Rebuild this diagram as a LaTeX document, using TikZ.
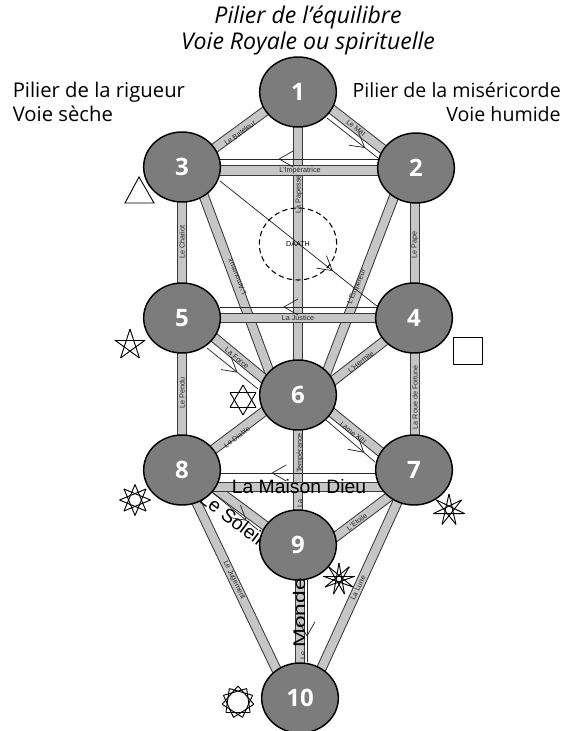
\documentclass[tikz,border=0pt]{standalone}
\usepackage{fontspec}
\setmainfont{Open Sans}
\newfontfamily\arialf{Liberation Sans}
\newfontfamily\arialwide[FakeStretch=1.35]{Liberation Sans}
\usetikzlibrary{calc,backgrounds,arrows.meta,decorations.markings,shapes.geometric}
\definecolor{sphere}{HTML}{7C7C7C}
\definecolor{barfill}{HTML}{C6C6C6}
\definecolor{baredge}{HTML}{3A3A3A}
\tikzset{
  sephira/.style={ellipse,draw=black,line width=1.1pt,fill=sphere,minimum width=57.5pt,minimum height=52.5pt,inner sep=0pt,
    text=white,font=\fontsize{18}{20}\selectfont\bfseries},
  bar/.style={draw=baredge,line width=0.75pt,double=barfill,double distance=6.2pt},
  tiny/.style={font=\arialf\fontsize{5.4}{6}\selectfont,inner sep=0pt,text=black!85},
  biglabel/.style={font=\arialf\fontsize{14.5}{16}\selectfont,inner sep=0pt},
  hugelabel/.style={font=\arialwide\fontsize{12.6}{14}\selectfont,inner sep=0pt},
  heading/.style={font=\fontsize{15.2}{18}\selectfont,inner sep=0pt},
  rightheading/.style={font=\fontsize{14.7}{18}\selectfont,inner sep=0pt},
  topheading/.style={font=\fontsize{17.3}{20}\selectfont,inner sep=0pt},
  flow/.style n args={1}{draw=black!85,line width=0.55pt,postaction={decorate},
    decoration={markings,mark=at position #1 with {\arrow{Straight Barb[length=10.5pt,width=12pt,line width=0.55pt]}}}},
  sign/.style={draw=black,line width=0.7pt,line join=miter},
}
% star polygon: x, y, radius, points, skip
\newcommand\starpoly[5]{%
  \foreach \i in {1,...,#4}{%
    \pgfmathsetmacro\aa{-90+\i*360/#4}%
    \pgfmathsetmacro\bb{-90+(\i+#5)*360/#4}%
    \draw[sign] ($(#1,#2)+(\aa:#3)$) -- ($(#1,#2)+(\bb:#3)$);
  }%
}
\begin{document}
\begin{tikzpicture}[x=0.75pt,y=-0.75pt]
\useasboundingbox (0,0) rectangle (564,731);
% spheres
\node[sephira] (n1) at (298,92) {1};
\node[sephira] (n2) at (416,168) {2};
\node[sephira] (n3) at (182,167) {3};
\node[sephira] (n4) at (414,318) {4};
\node[sephira] (n5) at (182,318) {5};
\node[sephira] (n6) at (298,395) {6};
\node[sephira] (n7) at (414,470) {7};
\node[sephira] (n8) at (182,470) {8};
\node[sephira] (n9) at (298,545) {9};
\node[sephira] (n10) at (300,698) {10};
\begin{scope}[on background layer]
  % vertical and slanted paths
  \draw[bar] ($(n1)+(0,0)$) -- ($(n6)+(0,0)$);
  \draw[bar] ($(n3)+(0,0)$) -- ($(n5)+(0,0)$);
  \draw[bar] ($(n2)+(-1,0)$) -- ($(n4)+(1,0)$);
  \draw[bar] ($(n5)+(0,0)$) -- ($(n8)+(0,0)$);
  \draw[bar] ($(n4)+(1,0)$) -- ($(n7)+(1,0)$);
  \draw[bar] ($(n6)+(0,0)$) -- ($(n9)+(0,0)$);
  \draw[bar] ($(n9)+(2,0)$) -- ($(n10)+(0,0)$);
  \draw[bar] ($(n1)+(0,-5)$) -- ($(n3)+(0,5)$);
  \draw[bar] ($(n1)+(0,-9)$) -- ($(n2)+(0,7)$);
  \draw[bar] ($(n3)+(11,0)$) -- ($(n6)+(-20,0)$);
  \draw[bar] ($(n2)+(-11,0)$) -- ($(n6)+(20,0)$);
  \draw[bar] ($(n5)+(0,-7)$) -- ($(n6)+(0,12)$);
  \draw[bar] ($(n4)+(0,0)$) -- ($(n6)+(0,13)$);
  \draw[bar] ($(n8)+(0,3)$) -- ($(n6)+(0,-9)$);
  \draw[bar] ($(n6)+(0,-10)$) -- ($(n7)+(0,9)$);
  \draw[bar] ($(n8)+(0,-6)$) -- ($(n9)+(0,5)$);
  \draw[bar] ($(n7)+(0,8)$) -- ($(n9)+(0,20)$);
  \draw[bar] ($(n8)+(-1,0)$) -- ($(n10)+(-10,0)$);
  \draw[bar] ($(n7)+(-2,0)$) -- ($(n10)+(8,0)$);
  % horizontal paths
  \draw[bar] ($(n3)+(0,3.5)$) -- ($(n2)+(0,2.5)$);
  \draw[bar] ($(n5)+(0,0)$) -- ($(n4)+(0,0)$);
  \draw[bar] ($(n8)+(0,17)$) -- ($(n7)+(0,17)$);
  % thin directed lines
  \draw[flow=.75] ($(n1)+(29,26)$) -- ($(n2)+(-38,-10)$);
  \draw[flow=.63] ($(n2)+(-38,-9)$) -- ($(n3)+(38,-8)$);
  \draw[flow=.715] ($(n3)+(38,14)$) -- ($(n4)+(-36,-11)$);
  \draw[flow=.6] ($(n4)+(-36,-11)$) -- ($(n5)+(38,-11)$);
  \draw[flow=.6] ($(n5)+(25,30)$) -- ($(n6)+(-40,-6)$);
  \draw[flow=.78] ($(n6)+(28,25)$) -- ($(n7)+(-39,-8)$);
  \draw[flow=.67] ($(n7)+(-38,3)$) -- ($(n8)+(38,3)$);
  \draw[flow=.75] ($(n8)+(31,23)$) -- ($(n9)+(-40,-15)$);
  \draw[flow=.69] ($(n9)+(9,35)$) -- ($(n10)+(7,-36)$);
  % labels on the paths
  \node[tiny,rotate=36] (l13) at (240,133) {Le Bateleur};
  \node[tiny,rotate=-38] (l12) at (356,128) {Le Mat};
  \node[tiny,rotate=90] (l16) at (299,194) {La Papesse};
  \node[tiny] (l32) at (300,171) {L'Impératrice};
  \node[tiny,rotate=90] (l35) at (182,242) {Le Chariot};
  \node[tiny,rotate=90] (l24) at (415,245) {Le Pape};
  \node[tiny,rotate=113] (l36) at (237,277) {L'Amoureux};
  \node[tiny,rotate=67] (l26) at (357,287) {L'Empereur};
  \node[tiny] (l54) at (298,318) {La Justice};
  \node[tiny,rotate=-39] (l56) at (237,358) {La Force};
  \node[tiny,rotate=38] (l46) at (361,362) {L'Hermite};
  \node[tiny,rotate=90] (l58) at (182,393) {Le Pendu};
  \node[tiny,rotate=90] (l47) at (415,397) {La Roue de Fortune};
  \node[tiny,rotate=37] (l68) at (237,437) {Le Diable};
  \node[tiny,rotate=-38] (l67) at (353,433) {Lame XIII};
  \node[tiny,rotate=90] (l69a) at (300,453) {Tempérance};
  \node[tiny,rotate=90] (l69b) at (300,503) {La};
  \node[tiny,rotate=37] (l79) at (357,522) {L'Etoile};
  \node[tiny,rotate=-64] (l810) at (234,580) {Le Jugement};
  \node[tiny,rotate=64] (l710) at (358,588) {La Lune};
  \node[tiny,rotate=90] (l910a) at (303,655) {Le};
  \node[biglabel,rotate=-37] (l89) at (232,518) {Le Soleil};
\end{scope}
\node[biglabel] (l87) at (299,487) {La Maison Dieu};
\node[hugelabel,rotate=90] (l910) at (299,613) {Monde};
% Daath
\node[ellipse,draw=black,line width=0.8pt,dashed,dash pattern=on 4pt off 2.5pt,minimum width=58pt,minimum height=54pt,inner sep=0pt,
  font=\arialf\fontsize{5.4}{6}\selectfont] (daath) at (298,244) {DAATH};
% headings
\node[topheading,anchor=base] (h1a) at (308,24) {\itshape Pilier de l'équilibre};
\node[topheading,anchor=base] (h1b) at (308,50) {\itshape Voie Royale ou spirituelle};
\node[heading,anchor=base west] (h2a) at (12.5,98) {Pilier de la rigueur};
\node[heading,anchor=base west] (h2b) at (12.5,122) {Voie sèche};
\node[rightheading,anchor=base east] (h3a) at (561,98) {Pilier de la miséricorde};
\node[rightheading,anchor=base east] (h3b) at (561,122) {Voie humide};
% signs
\draw[sign] (139,177) -- (125,203) -- (154,203) -- cycle;
\draw[sign] (453,337) rectangle (482,364);
\starpoly{130}{345}{16}{5}{2}
\starpoly{243}{400}{15}{6}{2}
\starpoly{135}{500}{15.5}{8}{3}
\starpoly{449}{510}{16}{7}{3}
\starpoly{339}{579}{16}{9}{4}
\starpoly{238}{702}{16}{11}{3}
\end{tikzpicture}
\end{document}
